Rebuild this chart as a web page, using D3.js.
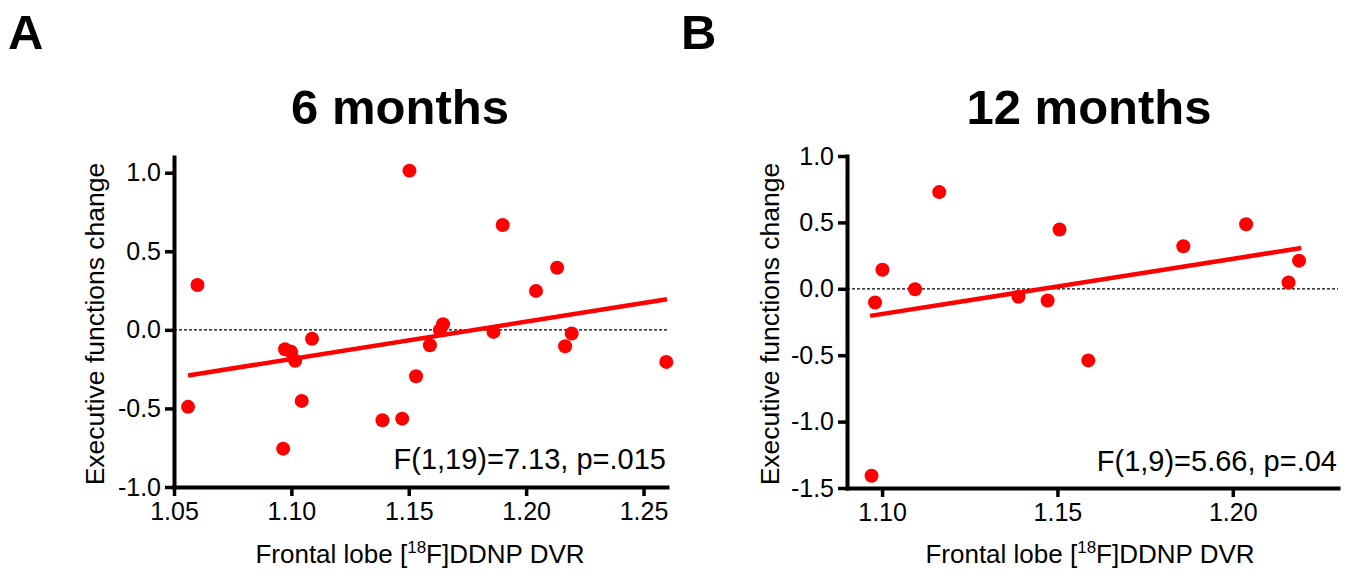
<!DOCTYPE html>
<html>
<head>
<meta charset="utf-8">
<script src="https://cdn.jsdelivr.net/npm/d3@7"></script>
<style>
  body { margin: 0; background: #ffffff; }
  svg text { font-family: "Liberation Sans", Arial, sans-serif; fill: #000000; }
</style>
</head>
<body>
<script>
// panel A, 6 months: frontal lobe DVR and executive functions change
let xA = [1.056, 1.060, 1.0965, 1.0973, 1.0999, 1.1016, 1.1044, 1.1088, 1.1388,
          1.1472, 1.1503, 1.1531, 1.159, 1.1633, 1.1646, 1.1861, 1.190, 1.2042,
          1.2132, 1.2166, 1.2194, 1.2597];
let yA = [-0.49, 0.285, -0.756, -0.123, -0.14, -0.197, -0.452, -0.057, -0.575,
          -0.565, 1.013, -0.295, -0.098, -0.002, 0.036, -0.013, 0.667, 0.248,
          0.395, -0.104, -0.023, -0.204];
let fitA = [[1.056, -0.29], [1.26, 0.195]];

// panel B, 12 months
let xB = [1.097, 1.098, 1.1001, 1.1094, 1.1163, 1.1389, 1.1472, 1.1506, 1.1588,
          1.1859, 1.2038, 1.2159, 1.2189];
let yB = [-1.408, -0.103, 0.144, -0.003, 0.728, -0.06, -0.088, 0.446, -0.539,
          0.32, 0.486, 0.048, 0.212];
let fitB = [[1.0966, -0.204], [1.2195, 0.307]];

// tick values
let xTicksA = [1.05, 1.10, 1.15, 1.20, 1.25];
let yTicksA = [-1.0, -0.5, 0.0, 0.5, 1.0];
let xTicksB = [1.10, 1.15, 1.20];
let yTicksB = [-1.5, -1.0, -0.5, 0.0, 0.5, 1.0];


/**
 * Draws the two panels once the page has loaded.
 */
window.onload = function() {
    let svg = d3.select("body")
                .append("svg")
                .attr("width", 1356)
                .attr("height", 574);

    makePanel(svg, {
        letter: "A", letterX: 8, title: "6 months", titleX: 400,
        xs: xA, ys: yA, fit: fitA,
        xDomain: [1.05, 1.26], yDomain: [-1.0, 1.1],
        xRange: [174, 667], yRange: [487, 157],
        xTicks: xTicksA, yTicks: yTicksA,
        stat: "F(1,19)=7.13, p=.015", statX: 666, statY: 469,
        yLabelX: 95, xLabelX: 420
    });

    makePanel(svg, {
        letter: "B", letterX: 681, title: "12 months", titleX: 1089,
        xs: xB, ys: yB, fit: fitB,
        xDomain: [1.09, 1.23], yDomain: [-1.5, 1.0],
        xRange: [847, 1338], yRange: [488, 156],
        xTicks: xTicksB, yTicks: yTicksB,
        stat: "F(1,9)=5.66, p=.04", statX: 1337, statY: 471,
        yLabelX: 770, xLabelX: 1090
    });
};


/**
 * Formats a number with plain hyphen minus, like the original figure.
 */
function fmt(spec) {
    let f = d3.format(spec);
    return function(d) {
        return f(d).replace("\u2212", "-");
    };
}


/**
 * Draws one scatter panel with its fit line, axes and labels.
 */
function makePanel(svg, p) {
    let x = d3.scaleLinear().domain(p.xDomain).range(p.xRange);
    let y = d3.scaleLinear().domain(p.yDomain).range(p.yRange);

    let left = p.xRange[0];
    let bottom = p.yRange[0];

    // panel letter and title
    svg.append("text")
       .attr("x", p.letterX)
       .attr("y", 49)
       .style("font-size", "49px")
       .style("font-weight", "bold")
       .text(p.letter);

    svg.append("text")
       .attr("x", p.titleX)
       .attr("y", 124)
       .attr("text-anchor", "middle")
       .style("font-size", "49px")
       .style("font-weight", "bold")
       .text(p.title);

    // dashed zero line
    svg.append("line")
       .attr("x1", x(p.xDomain[0]))
       .attr("x2", x(p.xDomain[1]))
       .attr("y1", y(0))
       .attr("y2", y(0))
       .attr("stroke", "#000000")
       .attr("stroke-width", 1.2)
       .attr("stroke-dasharray", "3,2");

    // regression line
    svg.append("path")
       .datum(p.fit)
       .attr("d", d3.line().x(d => x(d[0])).y(d => y(d[1])))
       .attr("fill", "none")
       .attr("stroke", "#ff0000")
       .attr("stroke-width", 4.5);

    // points
    svg.append("g")
       .selectAll("circle")
       .data(p.xs)
       .enter()
       .append("circle")
       .attr("cx", d => x(d))
       .attr("cy", (d, i) => y(p.ys[i]))
       .attr("r", 7)
       .attr("fill", "#ff0000");

    // axes
    let xAxis = d3.axisBottom(x)
                  .tickValues(p.xTicks)
                  .tickFormat(fmt(".2f"))
                  .tickSize(9)
                  .tickSizeOuter(0)
                  .tickPadding(6);
    let yAxis = d3.axisLeft(y)
                  .tickValues(p.yTicks)
                  .tickFormat(fmt(".1f"))
                  .tickSize(9)
                  .tickSizeOuter(0)
                  .tickPadding(4);

    let gx = svg.append("g")
                .attr("transform", "translate(0," + bottom + ")")
                .call(xAxis);
    let gy = svg.append("g")
                .attr("transform", "translate(" + left + ",0)")
                .call(yAxis);

    [gx, gy].forEach(function(g) {
        g.select(".domain").attr("stroke-width", 4).attr("stroke-linecap", "square");
        g.selectAll(".tick line").attr("stroke-width", 3.5);
        g.selectAll(".tick text")
         .style("font-size", "25px")
         .style("font-family", "'Liberation Sans', Arial, sans-serif");
    });

    // statistics text
    svg.append("text")
       .attr("x", p.statX)
       .attr("y", p.statY)
       .attr("text-anchor", "end")
       .style("font-size", "29px")
       .text(p.stat);

    // axis titles
    svg.append("text")
       .attr("transform", "translate(" + p.yLabelX + "," + ((bottom + p.yRange[1]) / 2 + 2) + ") rotate(-90)")
       .attr("text-anchor", "middle")
       .attr("dy", "0.35em")
       .style("font-size", "26.5px")
       .text("Executive functions change");

    let xl = svg.append("text")
                .attr("x", p.xLabelX)
                .attr("y", 563)
                .attr("text-anchor", "middle")
                .style("font-size", "26px");
    xl.append("tspan").text("Frontal lobe [");
    xl.append("tspan")
      .attr("dy", -10)
      .style("font-size", "17px")
      .text("18");
    xl.append("tspan")
      .attr("dy", 10)
      .text("F]DDNP DVR");
}
</script>
</body>
</html>
